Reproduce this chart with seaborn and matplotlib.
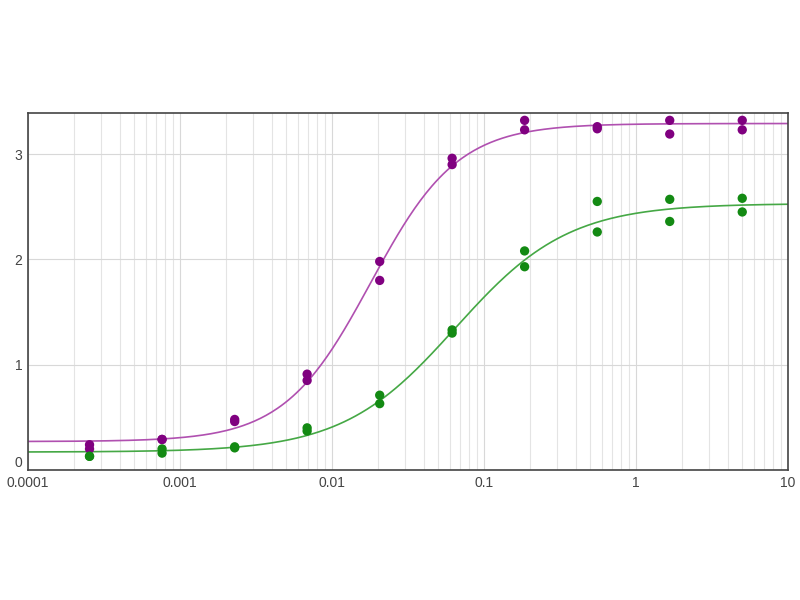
import numpy as np
import pandas as pd
import matplotlib.pyplot as plt
import matplotlib.transforms as mtransforms
import seaborn as sns

# Concentrations (3-fold dilution series), duplicates per point
conc = [0.000254, 0.000762, 0.00229, 0.00686, 0.0206, 0.0617, 0.185, 0.556, 1.667, 5.0]
purple_rep1 = [0.24, 0.29, 0.48, 0.91, 1.98, 2.96, 3.32, 3.26, 3.32, 3.32]
purple_rep2 = [0.20, 0.29, 0.46, 0.85, 1.80, 2.90, 3.23, 3.24, 3.19, 3.23]
green_rep1 = [0.13, 0.20, 0.22, 0.40, 0.71, 1.33, 2.08, 2.55, 2.57, 2.58]
green_rep2 = [0.13, 0.16, 0.21, 0.37, 0.63, 1.30, 1.93, 2.26, 2.36, 2.45]

# 4PL fit parameters: bottom, top, EC50, hill
purple_fit = (0.27, 3.29, 0.018, 1.52)
green_fit = (0.17, 2.53, 0.065, 1.17)

x_ticks = [0.0001, 0.001, 0.01, 0.1, 1, 10]
x_tick_labels = ["0.0001", "0.001", "0.01", "0.1", "1", "10"]
y_ticks = [0, 1, 2, 3]


def four_pl(x, bottom, top, ec50, hill):
    return bottom + (top - bottom) / (1 + (ec50 / x) ** hill)


points = pd.DataFrame({
    "conc": conc * 4,
    "od": purple_rep1 + purple_rep2 + green_rep1 + green_rep2,
    "series": ["purple"] * 20 + ["green"] * 20,
})

xs = np.logspace(-4, 1, 400)
curves = pd.DataFrame({
    "conc": np.concatenate([xs, xs]),
    "od": np.concatenate([four_pl(xs, *purple_fit), four_pl(xs, *green_fit)]),
    "series": ["purple"] * len(xs) + ["green"] * len(xs),
})

sns.set_style("white")
plt.rcParams["font.family"] = ["Liberation Sans", "DejaVu Sans"]

fig = plt.figure(figsize=(8, 6), dpi=100)
ax = fig.add_axes([0.035, 0.2167, 0.95, 0.595])

sns.lineplot(data=curves, x="conc", y="od", hue="series",
             palette={"purple": "#b050b0", "green": "#45a845"},
             linewidth=1.2, legend=False, ax=ax)
sns.scatterplot(data=points, x="conc", y="od", hue="series",
                palette={"purple": "#800080", "green": "#138a13"},
                s=45, edgecolor="none", legend=False, ax=ax, zorder=3)

ax.set_xscale("log")
ax.set_xlim(0.0001, 10)
ax.set_ylim(0, 3.39)
ax.set_xticks(x_ticks)
ax.set_xticklabels(x_tick_labels)
ax.set_yticks(y_ticks)
ax.grid(True, which="major", color="#d8d8d8", linewidth=0.8)
ax.grid(True, which="minor", axis="x", color="#e4e4e4", linewidth=0.8)
ax.set_xlabel("")
ax.set_ylabel("")
ax.tick_params(axis="both", which="both", length=0, labelsize=10, colors="#444444", pad=4)
for spine in ax.spines.values():
    spine.set_color("#444444")
    spine.set_linewidth(1.2)

# lift the "0" label a little so it clears "0.0001"
zero_label = ax.get_yticklabels()[0]
zero_label.set_transform(zero_label.get_transform() +
                         mtransforms.ScaledTranslation(0, 6 / 72, fig.dpi_scale_trans))

fig.savefig("out.png", dpi=100)
